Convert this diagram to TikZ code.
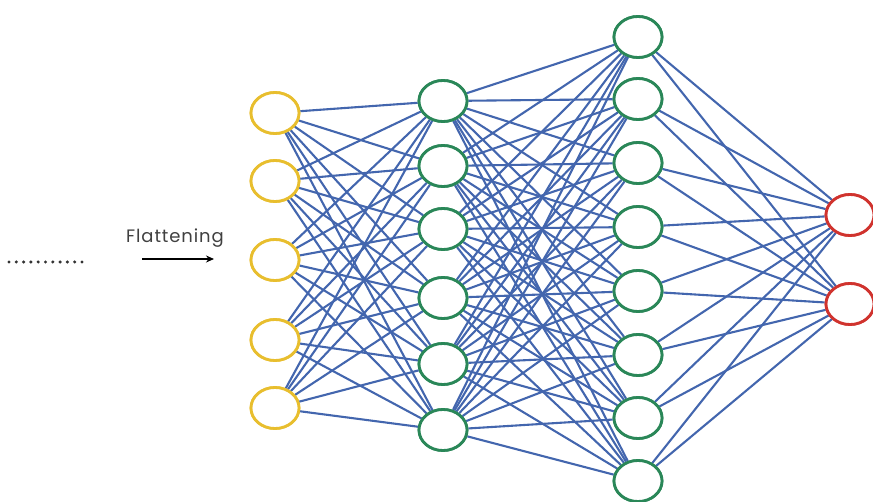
\documentclass[tikz,border=0pt]{standalone}
\usepackage{fontspec}
\setmainfont{Poppins}
\usetikzlibrary{shapes.geometric,arrows.meta}
\definecolor{edgeblue}{HTML}{4366AE}
\definecolor{nyellow}{HTML}{E8BE2E}
\definecolor{ngreen}{HTML}{2A8758}
\definecolor{nred}{HTML}{D0332E}
\begin{document}
\begin{tikzpicture}[x=1pt,y=1pt,
  neuron/.style={ellipse,draw,line width=2.8pt,fill=white,minimum width=48pt,minimum height=41pt,inner sep=0pt},
  inneuron/.style={neuron,draw=nyellow},
  hidneuron/.style={neuron,draw=ngreen},
  outneuron/.style={neuron,draw=nred},
  conn/.style={edgeblue,line width=2.1pt}]
\useasboundingbox (0,0) rectangle (873,501);
% layer 1
\foreach \i/\y in {1/113,2/181,3/260,4/340,5/408}
  \node[inneuron] (a\i) at (275,501-\y) {};
% layer 2
\foreach \i/\y in {1/101,2/166,3/229,4/298,5/364,6/430}
  \node[hidneuron] (b\i) at (443,501-\y) {};
% layer 3
\foreach \i/\y in {1/37,2/99,3/163,4/227,5/291,6/355,7/418,8/481}
  \node[hidneuron] (c\i) at (638,501-\y) {};
% layer 4
\foreach \i/\y in {1/215,2/304}
  \node[outneuron] (d\i) at (850,501-\y) {};
% connections
\foreach \i in {1,...,5}
  \foreach \j in {1,...,6}
    \draw[conn] (a\i) -- (b\j);
\foreach \i in {1,...,6}
  \foreach \j in {1,...,8}
    \draw[conn] (b\i) -- (c\j);
\foreach \i in {1,...,8}
  \foreach \j in {1,2}
    \draw[conn] (c\i) -- (d\j);
% redraw nodes on top
\foreach \i/\y in {1/113,2/181,3/260,4/340,5/408}
  \node[inneuron] at (275,501-\y) {};
\foreach \i/\y in {1/101,2/166,3/229,4/298,5/364,6/430}
  \node[hidneuron] at (443,501-\y) {};
\foreach \i/\y in {1/37,2/99,3/163,4/227,5/291,6/355,7/418,8/481}
  \node[hidneuron] at (638,501-\y) {};
\foreach \i/\y in {1/215,2/304}
  \node[outneuron] at (850,501-\y) {};
% flattening
\node[font=\fontsize{18}{20}\selectfont\addfontfeature{LetterSpace=5},text=black!75,inner sep=0pt] (flat) at (175,501-238) {Flattening};
\coordinate (as) at (142,501-259);
\coordinate (ae) at (214,501-259);
\draw[line width=1.8pt,-{Stealth[length=8pt,width=7pt]}] (as) -- (ae);
\coordinate (ds) at (9,501-262);
\coordinate (de) at (82,501-262);
\draw[line width=3.4pt,dash pattern=on 0pt off 7.3pt,line cap=round,black!80] (ds) -- (de);
\end{tikzpicture}
\end{document}
